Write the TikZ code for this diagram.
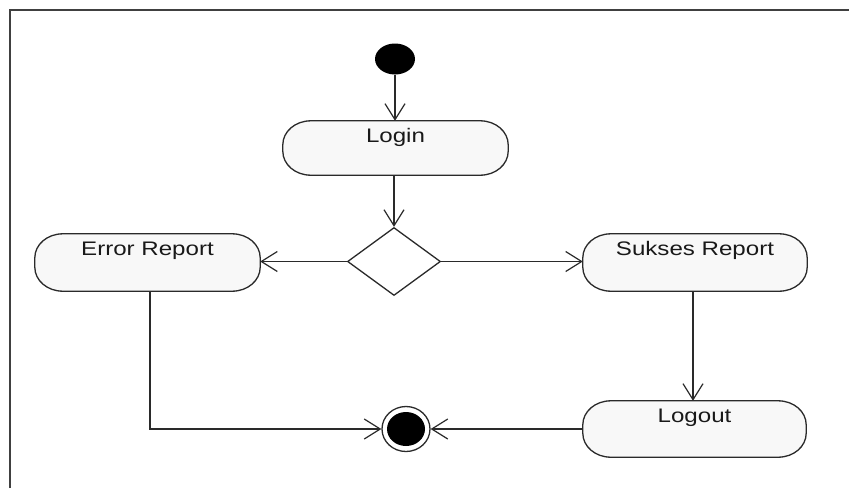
\documentclass[tikz,border=0pt]{standalone}
\usepackage{fontspec}
\newfontfamily\diafont[FakeStretch=1.23]{Liberation Sans}
\usetikzlibrary{arrows.meta,shapes.geometric}
\definecolor{linegray}{HTML}{2A2A2A}
\definecolor{boxfill}{HTML}{F8F8F8}
\pgfdeclarelayer{bg}
\pgfsetlayers{bg,main}
\tikzset{
  activity/.style={inner sep=0pt, text height=21pt,
    font=\diafont\fontsize{19.6}{20}\selectfont, text=black!90},
  capsule/.style={draw=linegray, line width=1.3pt, fill=boxfill},
  flow/.style={draw=linegray, line width=1.3pt, -{Straight Barb[length=16pt,width=20pt,line width=1.2pt]}},
}
\newcommand\capsulepath[1]{%
  \path[capsule] ([xshift=28pt]#1.north west) -- ([xshift=-28pt]#1.north east)
    .. controls ([xshift=-12.5pt]#1.north east) and ([yshift=-10.7pt]#1.north east) .. ([yshift=-24pt]#1.north east)
    -- ([yshift=24pt]#1.south east)
    .. controls ([yshift=10.7pt]#1.south east) and ([xshift=-12.5pt]#1.south east) .. ([xshift=-28pt]#1.south east)
    -- ([xshift=28pt]#1.south west)
    .. controls ([xshift=12.5pt]#1.south west) and ([yshift=10.7pt]#1.south west) .. ([yshift=24pt]#1.south west)
    -- ([yshift=-24pt]#1.north west)
    .. controls ([yshift=-10.7pt]#1.north west) and ([xshift=12.5pt]#1.north west) .. cycle;}
\begin{document}
\begin{tikzpicture}[x=1pt,y=-1pt]
\useasboundingbox (0,0) rectangle (849,488);
% frame
\draw[line width=2pt, draw=black!75] (10,488) -- (10,10) -- (849,10);

% nodes
\node[ellipse, fill=black, inner sep=0pt, minimum width=40pt, minimum height=31pt] (start) at (395,59) {};
\node[activity, minimum width=225pt, minimum height=54pt, text depth=33pt] (login) at (395.5,148) {Login};
\node[diamond, draw=linegray, line width=1.3pt, inner sep=0pt, aspect=1.37, minimum width=93pt, minimum height=68pt] (dec) at (394,261.5) {};
\node[activity, minimum width=225pt, minimum height=57pt, text depth=36pt] (err) at (147.5,262.5) {Error Report};
\node[activity, minimum width=224pt, minimum height=57pt, text depth=36pt] (suk) at (695,262.5) {Sukses Report};
\node[activity, minimum width=223pt, minimum height=56pt, text depth=35pt] (logout) at (694.5,429) {Logout};
\node[ellipse, draw=linegray, line width=1.3pt, inner sep=0pt, minimum width=48pt, minimum height=45pt] (end) at (406,429) {};
\fill[black] (end.center) ellipse [x radius=19pt, y radius=17pt];

\begin{pgfonlayer}{bg}
\fill[white] (0,0) rectangle (849,488);
\capsulepath{login}
\capsulepath{err}
\capsulepath{suk}
\capsulepath{logout}
\end{pgfonlayer}

% connectors
\draw[flow] (start.south) -- (start.south |- login.north);
\draw[flow] (login.south -| dec.north) -- (dec.north);
\draw[flow] (dec.west) -- (dec.west -| err.east);
\draw[flow] (dec.east) -- (dec.east -| suk.west);
\draw[flow] ([xshift=2.5pt]err.south) |- (end.west);
\draw[flow] ([xshift=-2pt]suk.south) -- ([xshift=-2pt]suk.south |- logout.north);
\draw[flow] (logout.west) -- (end.east);
\end{tikzpicture}
\end{document}
